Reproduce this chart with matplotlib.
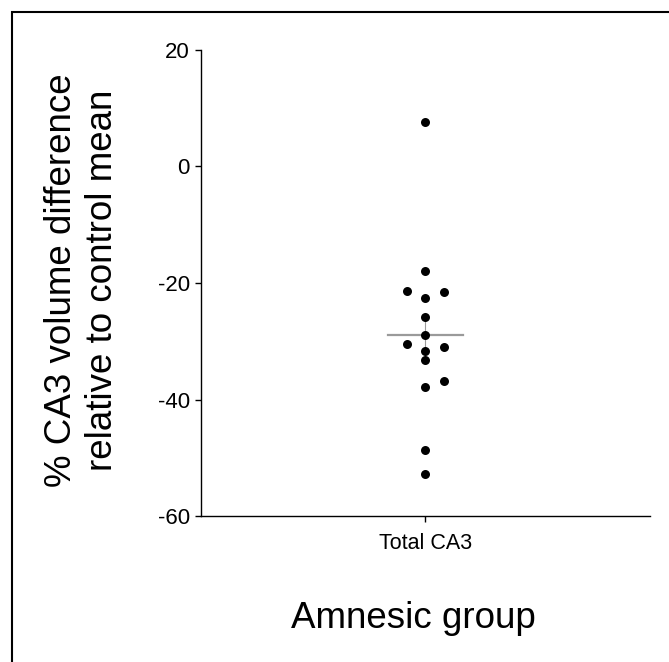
import matplotlib
matplotlib.use("Agg")
from matplotlib import pyplot as plt
from matplotlib.patches import Rectangle
import numpy as np

plt.rcParams['font.family'] = ['Liberation Sans', 'DejaVu Sans']

# data
category = ['Total CA3']
values = [7.7, -17.9, -21.3, -21.5, -22.5, -25.9, -28.9, -30.5,
          -30.9, -31.6, -33.2, -36.8, -37.8, -48.7, -52.8]
column = [0, 0, -1, 1, 0, 0, 0, -1, 1, 0, 0, 1, 0, 0, 0]  # scatter column of each dot
yticks = [-60, -40, -20, 0, 20]

values = np.array(values)
mean = values.mean()
sem = values.std(ddof=1) / np.sqrt(len(values))

fig = plt.figure(figsize=(6.69, 6.62), dpi=100)
ax = fig.add_axes((0.3004, 0.2205, 0.6712, 0.704))

step = 0.083
ax.scatter(np.array(column) * step, values, s=42, color='black', zorder=3, linewidths=0)
ax.plot([-0.165, 0.165], [mean, mean], color='#9a9a9a', lw=1.6, zorder=2)
ax.plot([0, 0], [mean - sem, mean + sem], color='#9a9a9a', lw=0.8, zorder=2)

ax.set_xlim(-1, 1)
ax.set_ylim(-60, 20)
ax.set_yticks(yticks)
ax.set_yticklabels([str(t) for t in yticks])
ax.set_xticks([0])
ax.set_xticklabels(category)

for s in ['top', 'right']:
    ax.spines[s].set_visible(False)
for s in ['left', 'bottom']:
    ax.spines[s].set_linewidth(1.0)
ax.tick_params(axis='y', labelsize=16, length=4, width=1, pad=4)
ax.tick_params(axis='x', labelsize=15.5, length=4, width=1, pad=8)

fig.text(82 / 669, 1 - 280 / 662, '% CA3 volume difference\nrelative to control mean',
         rotation=90, ha='center', va='center', multialignment='center',
         fontsize=26.5, linespacing=1.2)
fig.text(413 / 669, 1 - 628 / 662, 'Amnesic group', ha='center', va='baseline', fontsize=26.5)

# outer frame, only top and left edges show
fig.patches.append(Rectangle((11.5 / 669, -0.5), 2, 1.5 - 11.5 / 662, transform=fig.transFigure,
                             fill=False, edgecolor='black', lw=1.5, clip_on=False))

fig.savefig('out.png', dpi=100)
